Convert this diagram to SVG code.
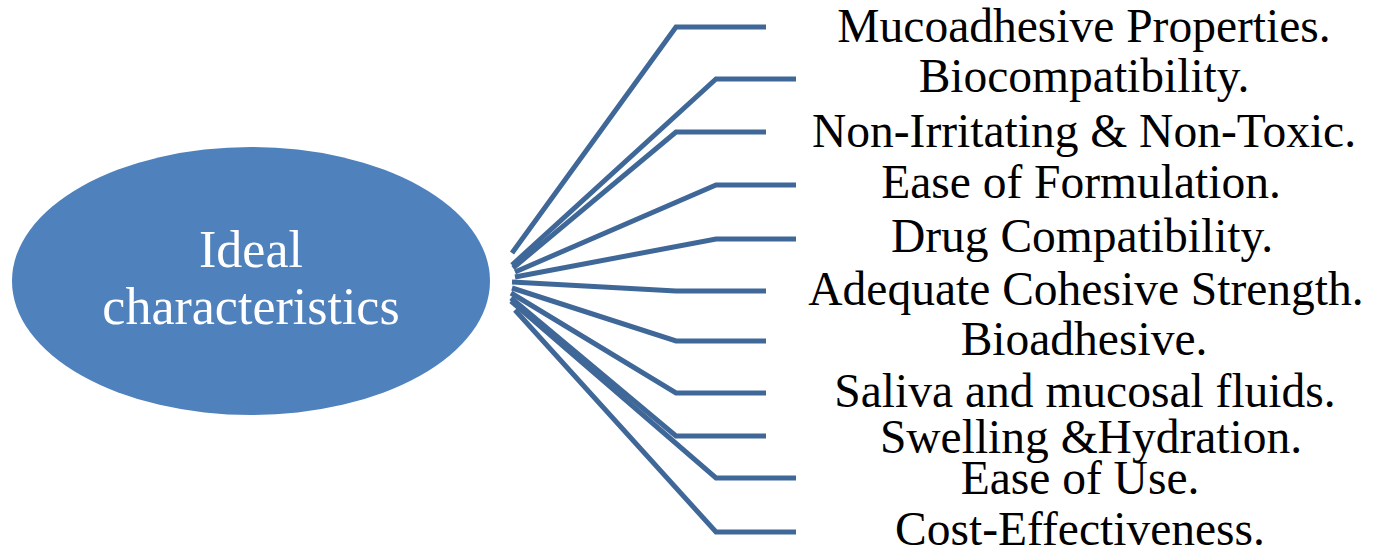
<svg xmlns="http://www.w3.org/2000/svg" width="1380" height="552" viewBox="0 0 1380 552">
<style>
.lbl{font-family:"Liberation Serif","Times New Roman",serif;font-size:47.5px;fill:#000;text-anchor:middle}
.ctr{font-family:"Liberation Serif","Times New Roman",serif;font-size:52px;fill:#fff;text-anchor:middle}
.conn{fill:none;stroke:#3F6899;stroke-width:5;stroke-linejoin:miter}
</style>
<rect width="1380" height="552" fill="#fff"/>
<g id="center">
<ellipse cx="251" cy="281" rx="239" ry="134" fill="#4F81BD"/>
<text class="ctr" x="251" y="267">Ideal</text>
<text class="ctr" x="251" y="324">characteristics</text>
</g>
<g id="connectors">
<polyline class="conn" points="512,253 676,27 766,27"/>
<polyline class="conn" points="512,265 716,79 796,79"/>
<polyline class="conn" points="513,268 676,132 766,132"/>
<polyline class="conn" points="515,272 716,185 796,185"/>
<polyline class="conn" points="515,277 716,239 796,239"/>
<polyline class="conn" points="512,282 676,291 766,291"/>
<polyline class="conn" points="512,288 676,341 766,341"/>
<polyline class="conn" points="511,293 676,393 766,393"/>
<polyline class="conn" points="511,298 676,436 766,436"/>
<polyline class="conn" points="511,301 716,478 796,478"/>
<polyline class="conn" points="515,310 716,532 796,532"/>
</g>
<g id="n1"><text class="lbl" x="1084" y="42">Mucoadhesive Properties.</text></g>
<g id="n2"><text class="lbl" x="1084" y="92">Biocompatibility.</text></g>
<g id="n3"><text class="lbl" x="1084" y="147">Non-Irritating &amp; Non-Toxic.</text></g>
<g id="n4"><text class="lbl" x="1081" y="198">Ease of Formulation.</text></g>
<g id="n5"><text class="lbl" x="1082" y="252">Drug Compatibility.</text></g>
<g id="n6"><text class="lbl" x="1086" y="305">Adequate Cohesive Strength.</text></g>
<g id="n7"><text class="lbl" x="1084" y="355">Bioadhesive.</text></g>
<g id="n8"><text class="lbl" x="1085" y="407">Saliva and mucosal fluids.</text></g>
<g id="n9"><text class="lbl" x="1091" y="453">Swelling &amp;Hydration.</text></g>
<g id="n10"><text class="lbl" x="1080" y="494">Ease of Use.</text></g>
<g id="n11"><text class="lbl" x="1080" y="545">Cost-Effectiveness.</text></g>
</svg>
